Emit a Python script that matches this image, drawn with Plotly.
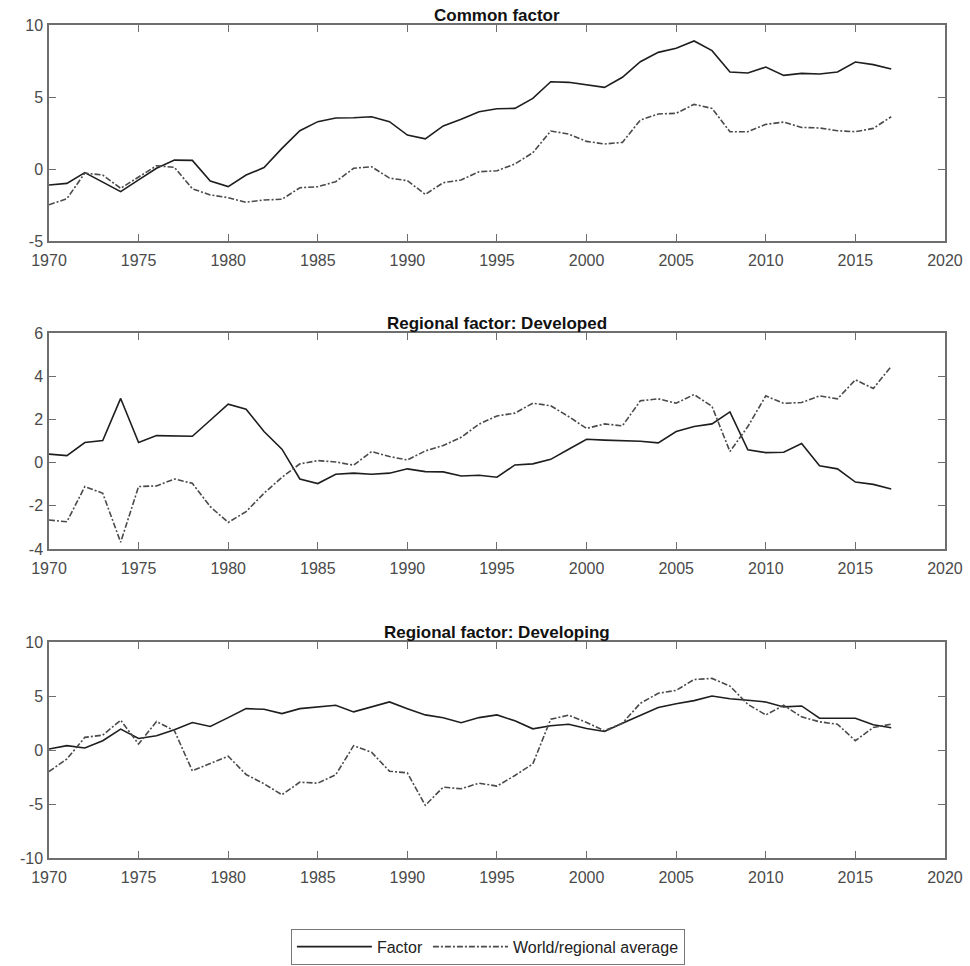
import plotly.graph_objects as go

# Annual series, 1970-2017
years = list(range(1970, 2018))

common_factor = [
    -1.11, -1.0, -0.25, -0.9, -1.57, -0.75, 0.05, 0.62, 0.6, -0.83,
    -1.22, -0.42, 0.1, 1.43, 2.66, 3.29, 3.54, 3.56, 3.63, 3.29,
    2.36, 2.1, 2.99, 3.45, 3.98, 4.19, 4.21, 4.9, 6.06, 6.02,
    5.83, 5.67, 6.37, 7.45, 8.1, 8.38, 8.89, 8.22, 6.74, 6.67,
    7.08, 6.5, 6.64, 6.6, 6.74, 7.43, 7.25, 6.94,
]
common_avg = [
    -2.48, -2.06, -0.28, -0.42, -1.34, -0.53, 0.23, 0.12, -1.37, -1.8,
    -1.99, -2.31, -2.15, -2.1, -1.3, -1.23, -0.88, 0.05, 0.16, -0.63,
    -0.81, -1.76, -0.95, -0.76, -0.19, -0.12, 0.35, 1.13, 2.64, 2.43,
    1.92, 1.74, 1.85, 3.4, 3.82, 3.87, 4.49, 4.21, 2.59, 2.59,
    3.1, 3.26, 2.89, 2.85, 2.66, 2.59, 2.82, 3.63,
]

developed_factor = [
    0.39, 0.32, 0.93, 1.02, 2.97, 0.93, 1.25, 1.22, 1.22, 1.96,
    2.7, 2.47, 1.44, 0.62, -0.76, -0.97, -0.54, -0.49, -0.54, -0.49,
    -0.29, -0.42, -0.43, -0.62, -0.59, -0.68, -0.11, -0.06, 0.15, 0.62,
    1.08, 1.04, 1.0, 0.99, 0.91, 1.44, 1.67, 1.79, 2.35, 0.59,
    0.46, 0.48, 0.88, -0.15, -0.29, -0.9, -1.01, -1.22,
]
developed_avg = [
    -2.66, -2.74, -1.11, -1.42, -3.69, -1.11, -1.08, -0.76, -0.96, -2.04,
    -2.77, -2.27, -1.42, -0.68, -0.06, 0.09, 0.03, -0.12, 0.51, 0.28,
    0.12, 0.54, 0.79, 1.17, 1.78, 2.16, 2.29, 2.75, 2.63, 2.13,
    1.58, 1.79, 1.7, 2.86, 2.95, 2.75, 3.15, 2.6, 0.51, 1.67,
    3.09, 2.74, 2.78, 3.09, 2.95, 3.83, 3.43, 4.45,
]

developing_factor = [
    0.09, 0.4, 0.18, 0.86, 1.93, 1.07, 1.32, 1.87, 2.55, 2.18,
    3.0, 3.83, 3.77, 3.37, 3.83, 3.99, 4.14, 3.53, 3.99, 4.45,
    3.83, 3.25, 2.98, 2.52, 3.0, 3.25, 2.7, 1.96, 2.24, 2.39,
    1.99, 1.72, 2.48, 3.22, 3.93, 4.29, 4.57, 5.0, 4.75, 4.6,
    4.45, 3.99, 4.08, 2.94, 2.94, 2.94, 2.33, 2.06,
]
developing_avg = [
    -1.99, -0.83, 1.17, 1.38, 2.76, 0.55, 2.64, 1.78, -1.93, -1.26,
    -0.58, -2.27, -3.13, -4.14, -2.98, -3.07, -2.3, 0.4, -0.21, -1.96,
    -2.12, -5.12, -3.44, -3.59, -3.07, -3.34, -2.36, -1.29, 2.85, 3.22,
    2.55, 1.78, 2.48, 4.33, 5.25, 5.52, 6.53, 6.63, 5.92, 4.23,
    3.25, 4.14, 3.07, 2.61, 2.39, 0.86, 2.09, 2.39,
]

panel_titles = ["Common factor", "Regional factor: Developed", "Regional factor: Developing"]
panel_series = [
    (common_factor, common_avg),
    (developed_factor, developed_avg),
    (developing_factor, developing_avg),
]
y_ranges = [(-5, 10, 5), (-4, 6, 2), (-10, 10, 5)]
year_ticks = list(range(1970, 2021, 5))
series_names = ["Factor", "World/regional average"]

# Panel placement (paper fractions, bottom/top)
x_domain = [0.0505, 0.9742]
y_domains = [(0.7505, 0.9741), (0.4317, 0.6553), (0.1118, 0.3354)]

FONT = "Liberation Sans, Arial, sans-serif"
AXIS_COLOR = "#6e6e6e"
TICK_FONT = dict(family=FONT, size=16, color="#4a4a4a")


def plain_label(v):
    # ASCII hyphen for negatives
    return str(v)


fig = go.Figure()

for i, (fac, avg) in enumerate(panel_series):
    n = "" if i == 0 else str(i + 1)
    fig.add_trace(go.Scatter(
        x=years, y=fac, mode="lines", name=series_names[0],
        line=dict(color="#1e1e1e", width=1.6),
        xaxis="x" + n, yaxis="y" + n, showlegend=(i == 0),
    ))
    fig.add_trace(go.Scatter(
        x=years, y=avg, mode="lines", name=series_names[1],
        line=dict(color="#4a4a4a", width=1.6, dash="6px,2px,2px,2px"),
        xaxis="x" + n, yaxis="y" + n, showlegend=(i == 0),
    ))

    lo, hi, step = y_ranges[i]
    y_ticks = list(range(lo, hi + 1, step))
    common_axis = dict(
        showline=True, linecolor=AXIS_COLOR, linewidth=1.5, mirror="allticks",
        ticks="inside", ticklen=7, tickwidth=1.2, tickcolor=AXIS_COLOR,
        showgrid=False, zeroline=False, tickfont=TICK_FONT, automargin=False,
    )
    fig.layout["xaxis" + n] = dict(
        domain=x_domain, range=[1970, 2020],
        tickmode="array", tickvals=year_ticks, ticktext=[str(t) for t in year_ticks],
        anchor="y" + n, ticklabelstandoff=4, **common_axis,
    )
    fig.layout["yaxis" + n] = dict(
        domain=list(y_domains[i]), range=[lo, hi],
        tickmode="array", tickvals=y_ticks, ticktext=[plain_label(t) for t in y_ticks],
        anchor="x" + n, ticklabelstandoff=1, **common_axis,
    )
    fig.add_annotation(
        text="<b>" + panel_titles[i] + "</b>", xref="paper", yref="paper",
        x=sum(x_domain) / 2, y=y_domains[i][1], yanchor="bottom", yshift=-2,
        showarrow=False, font=dict(family=FONT, size=17, color="#111111"),
    )

fig.update_layout(
    width=970, height=966,
    margin=dict(l=0, r=0, t=0, b=0),
    paper_bgcolor="white", plot_bgcolor="white",
    showlegend=True,
    legend=dict(
        orientation="h", x=0.503, xanchor="center", y=0.02, yanchor="middle",
        bordercolor="#777777", borderwidth=1, bgcolor="white",
        font=dict(family=FONT, size=16, color="#222222"),
        itemwidth=75, tracegroupgap=0,
    ),
)

fig.write_html("out.html")
